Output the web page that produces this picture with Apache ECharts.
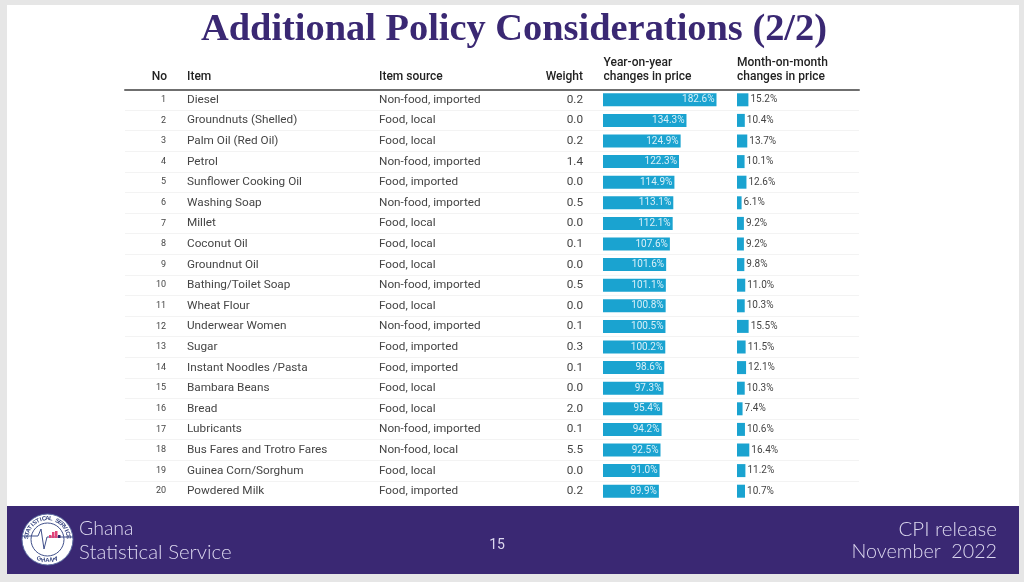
<!DOCTYPE html>
<html><head><meta charset="utf-8">
<style>html,body{margin:0;padding:0;background:#e6e6e6}#c{width:1024px;height:582px}</style>
<script src="https://cdn.jsdelivr.net/npm/echarts@6/dist/echarts.min.js"></script>
</head><body><div id="c"></div>
<script>
const numbers = ['1','2','3','4','5','6','7','8','9','10','11','12','13','14','15','16','17','18','19','20'];
const items = ['Diesel','Groundnuts (Shelled)','Palm Oil (Red Oil)','Petrol','Sunflower Cooking Oil','Washing Soap','Millet','Coconut Oil','Groundnut Oil','Bathing/Toilet Soap','Wheat Flour','Underwear Women','Sugar','Instant Noodles /Pasta','Bambara Beans','Bread','Lubricants','Bus Fares and Trotro Fares','Guinea Corn/Sorghum','Powdered Milk'];
const sources = ['Non-food, imported','Food, local','Food, local','Non-food, imported','Food, imported','Non-food, imported','Food, local','Food, local','Food, local','Non-food, imported','Food, local','Non-food, imported','Food, imported','Food, imported','Food, local','Food, local','Non-food, imported','Non-food, local','Food, local','Food, imported'];
const weights = ['0.2','0.0','0.2','1.4','0.0','0.5','0.0','0.1','0.0','0.5','0.0','0.1','0.3','0.1','0.0','2.0','0.1','5.5','0.0','0.2'];
const yoy = [182.6,134.3,124.9,122.3,114.9,113.1,112.1,107.6,101.6,101.1,100.8,100.5,100.2,98.6,97.3,95.4,94.2,92.5,91.0,89.9];
const mom = [15.2,10.4,13.7,10.1,12.6,6.1,9.2,9.2,9.8,11.0,10.3,15.5,11.5,12.1,10.3,7.4,10.6,16.4,11.2,10.7];

const PURPLE='#3a2873', BAR='#1aa3d0', TXT='#454545', HEAD='#222222', FOOT='#dcd8ef';
const FF='Roboto';
const chart = echarts.init(document.getElementById('c'),null,{renderer:'canvas'});

const textCol=(data,margin,align,size)=>({
  type:'category',gridIndex:0,data,inverse:true,position:'left',offset:0,
  axisLine:{show:false},axisTick:{show:false},splitLine:{show:false},
  axisLabel:{inside:true,margin,align,interval:0,fontFamily:FF,fontSize:size||11.75,color:TXT,padding:[2,0,0,0]}
});
const hiddenCat=(gridIndex)=>({type:'category',gridIndex,data:numbers,inverse:true,show:false});

// ring lettering on the logo
const cx=47.5, cy=539.5;
const ring=(str,a0,a1,r)=>[...str].map((ch,i)=>{
  const a=a0+(a1-a0)*i/(str.length-1);
  return {type:'text',x:cx+r*Math.sin(a),y:cy-r*Math.cos(a),rotation:-a,z:12,
    style:{text:ch,fontFamily:'Liberation Sans',fontWeight:'bold',fontSize:6,fill:'#34437f',align:'center',verticalAlign:'middle'}};
});
const header=(text,x,y,align)=>({type:'text',x,y,z:5,style:{text,fontFamily:FF,fontWeight:500,fontSize:12,fill:HEAD,align:align||'left',verticalAlign:'middle'}});
const foot=(text,x,y,size,align)=>({type:'text',x,y,z:5,style:{text,fontFamily:'Lato',fontWeight:300,fontSize:size,fill:FOOT,align:align||'left',verticalAlign:'middle'}});

chart.setOption({
  animation:false,
  backgroundColor:'#e6e6e6',
  grid:[
    {left:125,top:89.5,width:734,height:412},
    {left:603,top:89.5,width:113.5,height:412},
    {left:737,top:89.5,width:100,height:412}
  ],
  xAxis:[
    {type:'value',gridIndex:0,min:0,max:1,position:'top',axisLine:{show:true,onZero:false,lineStyle:{color:'#6f6f6f',width:2}},axisTick:{show:false},axisLabel:{show:false},splitLine:{show:false}},
    {type:'value',gridIndex:1,min:0,max:182.6,show:false},
    {type:'value',gridIndex:2,min:0,max:133.3,show:false}
  ],
  yAxis:[
    {type:'category',gridIndex:0,data:numbers,inverse:true,position:'left',axisLine:{show:false},axisTick:{show:false},axisLabel:{show:false},
     splitLine:{show:true,showMinLine:false,showMaxLine:false,interval:0,lineStyle:{color:'#f3f3f3',width:1}}},
    textCol(numbers,41,'right',9),
    textCol(items,62,'left'),
    textCol(sources,254,'left'),
    textCol(weights,458,'right'),
    hiddenCat(1),
    hiddenCat(2)
  ],
  series:[
    {type:'bar',xAxisIndex:1,yAxisIndex:5,data:yoy,barWidth:13,itemStyle:{color:BAR},
     label:{show:true,position:'insideRight',distance:2,fontFamily:FF,fontSize:10,color:'#d8eff8',padding:[1,0,0,0],formatter:p=>p.value.toFixed(1)+'%'}},
    {type:'bar',xAxisIndex:2,yAxisIndex:6,data:mom,barWidth:13,itemStyle:{color:BAR},
     label:{show:true,position:'right',distance:2,fontFamily:FF,fontSize:10,color:TXT,padding:[1,0,0,0],formatter:p=>p.value.toFixed(1)+'%'}}
  ],
  graphic:[
    {type:'rect',shape:{x:7,y:5,width:1012,height:569},style:{fill:'#ffffff'},z:-10,silent:true},
    {type:'rect',shape:{x:7,y:506,width:1012,height:68},style:{fill:PURPLE},z:1},
    {type:'text',x:514,y:30,z:5,style:{text:'Additional Policy Considerations (2/2)',fontFamily:'Liberation Serif',fontWeight:'bold',fontSize:38.4,fill:PURPLE,align:'center',verticalAlign:'middle'}},
    header('No',167,77,'right'),
    header('Item',187,77),
    header('Item source',379,77),
    header('Weight',583,77,'right'),
    header('Year-on-year',603.5,63),
    header('changes in price',603.5,76.5),
    header('Month-on-month',737,63),
    header('changes in price',737,76.5),
    foot('Ghana',79,529,19.5),
    foot('Statistical Service',79,552,20.4),
    {type:'text',x:497,y:545,z:5,style:{text:'15',fontFamily:'Roboto',fontSize:14,fill:FOOT,align:'center',verticalAlign:'middle'}},
    foot('CPI release',997,529,20.5,'right'),
    foot('November  2022',997,552,19.7,'right'),
    {type:'circle',shape:{cx,cy,r:25.5},style:{fill:'#ffffff',stroke:'#5a6aa0',lineWidth:1},z:10},
    {type:'circle',shape:{cx,cy,r:16.5},style:{fill:'#ffffff',stroke:'#3f4f8a',lineWidth:1},z:11},
    {type:'polyline',shape:{points:[[22,536],[38,536],[41,529],[44,549],[47,537],[50,537],[73,537]]},style:{fill:null,stroke:'#3f4f8a',lineWidth:1},z:12},
    {type:'rect',shape:{x:49,y:535,width:2.5,height:3},style:{fill:'#e0457b'},z:13},
    {type:'rect',shape:{x:52,y:532,width:2.5,height:6},style:{fill:'#e0457b'},z:13},
    {type:'rect',shape:{x:55,y:531,width:2.5,height:7},style:{fill:'#e0457b'},z:13},
    {type:'rect',shape:{x:58,y:535,width:2.5,height:3},style:{fill:'#2b2b6b'},z:13},
    ...ring('STATISTICAL SERVICE',-1.45,1.45,21),
    ...[...'GHANA'].map((ch,i)=>{const a=0.4-0.2*i;return {type:'text',x:cx-21*Math.sin(a),y:cy+21*Math.cos(a),rotation:a,z:12,
      style:{text:ch,fontFamily:'Liberation Sans',fontWeight:'bold',fontSize:6,fill:'#34437f',align:'center',verticalAlign:'middle'}};})
  ]
});
</script></body></html>
